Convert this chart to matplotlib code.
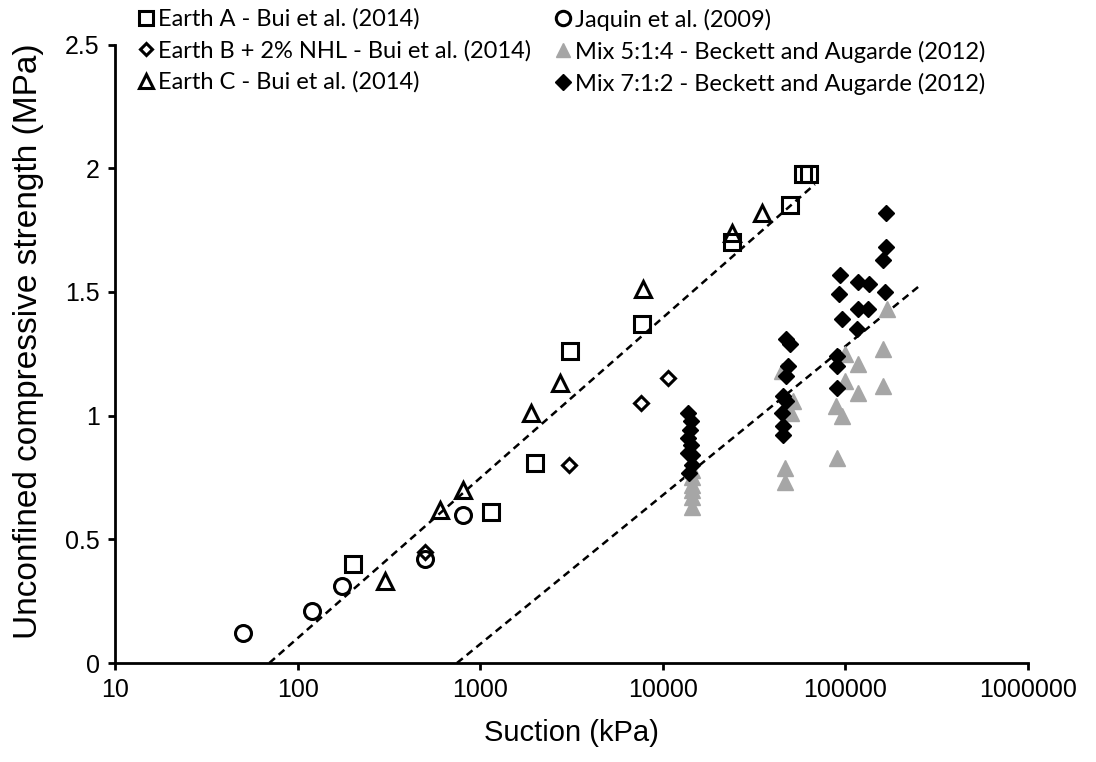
import matplotlib
matplotlib.use("Agg")
import matplotlib.pyplot as plt

plt.rcParams['font.family'] = ['Liberation Sans', 'DejaVu Sans']

# DATA (suction kPa, UCS MPa)
earthA_x = [200, 1150, 2000, 3100, 7700, 24000, 50000, 58500, 63000]
earthA_y = [0.40, 0.61, 0.81, 1.26, 1.37, 1.70, 1.85, 1.975, 1.975]

earthB_x = [500, 3050, 7600, 10700]
earthB_y = [0.45, 0.80, 1.05, 1.15]

earthC_x = [300, 600, 800, 1900, 2750, 7800, 24000, 35000]
earthC_y = [0.33, 0.62, 0.70, 1.01, 1.13, 1.51, 1.74, 1.82]

jaquin_x = [50, 120, 175, 500, 800]
jaquin_y = [0.12, 0.21, 0.31, 0.42, 0.60]

mix514_x = [14500, 14500, 14500, 14500, 14500, 14500,
            44800, 51500, 50500, 46500, 46500,
            88500, 95400, 89600, 99500, 99500, 116800, 116800, 161500, 161500, 168300]
mix514_y = [0.63, 0.67, 0.70, 0.72, 0.75, 0.78,
            1.18, 1.06, 1.01, 0.79, 0.73,
            1.04, 1.00, 0.83, 1.25, 1.14, 1.21, 1.09, 1.27, 1.12, 1.43]

mix712_x = [13700, 14300, 14100, 13700, 14300, 13700, 14500, 14500, 13900,
            47500, 49500, 48500, 47100, 45700, 47400, 44800, 45700, 45700,
            166700, 166700, 161500, 93300, 117700, 135300, 164800, 92200,
            117700, 133400, 95400, 115400, 89600, 89600, 89600]
mix712_y = [1.01, 0.98, 0.94, 0.91, 0.88, 0.85, 0.84, 0.80, 0.77,
            1.31, 1.29, 1.20, 1.16, 1.08, 1.06, 1.01, 0.96, 0.92,
            1.82, 1.68, 1.63, 1.57, 1.54, 1.53, 1.50, 1.49,
            1.43, 1.43, 1.39, 1.35, 1.24, 1.20, 1.11]

# trend lines (end points)
trend1_x = [70, 68000]
trend1_y = [0.0, 1.935]
trend2_x = [746, 250000]
trend2_y = [0.0, 1.52]

fig = plt.figure(figsize=(10.96, 7.62), dpi=100)
ax = fig.add_axes([0.1049, 0.1299, 0.8331, 0.8117])

open_kw = dict(ls='none', mfc='none', mec='black', mew=2.2)
hA, = ax.plot(earthA_x, earthA_y, marker='s', ms=11.5, label='Earth A - Bui et al. (2014)', **open_kw)
hB, = ax.plot(earthB_x, earthB_y, marker='D', ms=7.2, label='Earth B + 2% NHL - Bui et al. (2014)', **open_kw)
hC, = ax.plot(earthC_x, earthC_y, marker='^', ms=11, label='Earth C - Bui et al. (2014)', **open_kw)
hJ, = ax.plot(jaquin_x, jaquin_y, marker='o', ms=11.5, label='Jaquin et al. (2009)', **open_kw)
hM1, = ax.plot(mix514_x, mix514_y, ls='none', marker='^', ms=11.5, color='#a6a6a6',
               mec='#a6a6a6', label='Mix 5:1:4 - Beckett and Augarde (2012)')
hM2, = ax.plot(mix712_x, mix712_y, ls='none', marker='D', ms=8.5, color='black',
               label='Mix 7:1:2 - Beckett and Augarde (2012)')

ax.plot(trend1_x, trend1_y, color='black', lw=1.8, ls=(0, (3, 2)), zorder=1)
ax.plot(trend2_x, trend2_y, color='black', lw=1.8, ls=(0, (3, 2)), zorder=1)

ax.set_xscale('log')
ax.set_xlim(10, 1000000)
ax.set_ylim(0, 2.5)
xt = [10, 100, 1000, 10000, 100000, 1000000]
ax.set_xticks(xt)
ax.set_xticklabels([str(v) for v in xt])
ax.minorticks_off()
ax.set_yticks([0, 0.5, 1, 1.5, 2, 2.5])
ax.set_yticklabels(['0', '0.5', '1', '1.5', '2', '2.5'])
ax.tick_params(direction='out', length=5, width=2, labelsize=18, pad=6)
for s in ['top', 'right']:
    ax.spines[s].set_visible(False)
for s in ['left', 'bottom']:
    ax.spines[s].set_linewidth(2)

ax.set_xlabel('Suction (kPa)', fontsize=21, labelpad=12)
ax.set_ylabel('Unconfined compressive strength (MPa)', fontsize=24)
ax.yaxis.set_label_coords(-0.078, 0.52)

leg_kw = dict(loc='upper left', frameon=False, handlelength=0.6, handletextpad=0.2,
              labelspacing=0.42, borderaxespad=0, borderpad=0.1, markerscale=0.9,
              prop={'family': ['Lato', 'DejaVu Sans'], 'size': 17})
fig.legend(handles=[hA, hB, hC], bbox_to_anchor=(0.125, 0.992), **leg_kw)
fig.legend(handles=[hJ, hM1, hM2], bbox_to_anchor=(0.505, 0.992), **leg_kw)

fig.savefig('out.png', dpi=100)
